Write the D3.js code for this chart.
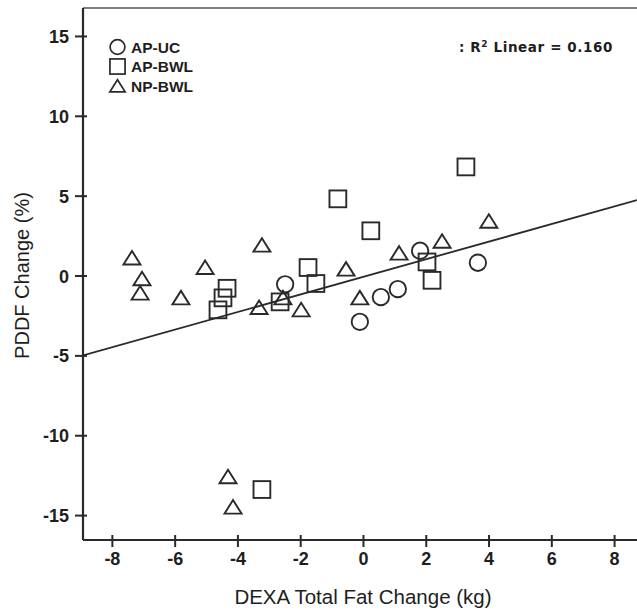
<!DOCTYPE html>
<html>
<head>
<meta charset="utf-8">
<script src="https://cdn.jsdelivr.net/npm/d3@7"></script>
<style>
  body { margin: 0; background: #fff; }
  svg { display: block; }
</style>
</head>
<body>
<svg id="svg" width="637" height="610"></svg>
<script>
// AP-UC (circles), AP-BWL (squares), NP-BWL (triangles): [fat change kg, PDDF change %]
var apUC = [
    [-2.48, -0.55], [1.82, 1.55], [3.66, 0.8], [0.57, -1.35], [1.11, -0.85], [-0.10, -2.9]
];
var apBWL = [
    [3.28, 6.8], [-0.80, 4.8], [0.25, 2.8], [-1.75, 0.5], [-1.50, -0.5], [-2.64, -1.65],
    [-4.33, -0.8], [-4.46, -1.4], [-4.62, -2.15], [2.04, 0.85], [2.20, -0.3], [-3.22, -13.4]
];
var npBWL = [
    [-7.36, 1.1], [-7.04, -0.2], [-7.10, -1.1], [-5.80, -1.4], [-5.03, 0.5], [-3.22, 1.9],
    [-3.31, -2.0], [-2.55, -1.4], [-1.97, -2.15], [-0.54, 0.4], [-0.10, -1.4], [1.15, 1.4],
    [2.52, 2.15], [4.01, 3.4], [-4.30, -12.6], [-4.14, -14.5]
];
var groups = ["AP-UC", "AP-BWL", "NP-BWL"];
var xTicks = [-8, -6, -4, -2, 0, 2, 4, 6, 8],
    yTicks = [-15, -10, -5, 0, 5, 10, 15];
var rSquared = "0.160";

// small stand-in for d3-selection-multi
d3.selection.prototype.attrs = function(o) {
    var sel = this;
    if (typeof o === "function") {
        return sel.each(function(d, i, n) {
            var v = o.call(this, d, i, n), s = d3.select(this);
            for (var k in v) s.attr(k, v[k]);
        });
    }
    for (var k in o) sel.attr(k, o[k]);
    return sel;
};

var svg = d3.select("#svg");
var L = 83, R = 637, T = 8, B = 540;

var x = d3.scaleLinear().domain([-8.92, 8.73]).range([L, R]),
    y = d3.scaleLinear().domain([-16.56, 16.75]).range([B, T]);

var ink = "#2a2a2a",
    font = "Liberation Sans, Arial, sans-serif";

// frame top
svg.append("line").attrs({x1: L, x2: R, y1: T, y2: T, stroke: "#555", "stroke-width": 1.5});

// axes
var fmt = d => String(d);
var gx = svg.append("g").attr("transform", "translate(0," + B + ")")
    .call(d3.axisBottom(x).tickValues(xTicks).tickSize(7).tickSizeOuter(0).tickPadding(5).tickFormat(fmt));
var gy = svg.append("g").attr("transform", "translate(" + L + ",0)")
    .call(d3.axisLeft(y).tickValues(yTicks).tickSize(8).tickSizeOuter(0).tickPadding(6).tickFormat(fmt));
gx.select(".domain").attrs({stroke: ink, "stroke-width": 2.2, d: "M" + L + ",0H" + R});
gy.select(".domain").attrs({stroke: ink, "stroke-width": 2.2, d: "M0," + T + "V" + B});
gx.selectAll(".tick line").attrs({y1: -5, stroke: ink, "stroke-width": 2});
gy.selectAll(".tick line").attrs({x1: 4, stroke: ink, "stroke-width": 2});
[gx, gy].forEach(function(g) {
    g.selectAll(".tick text").attrs({"font-family": font, "font-size": 18, "font-weight": "bold", fill: "#1e1e1e"});
});
gy.selectAll(".tick text").attr("dy", "0.36em");

// axis titles
svg.append("text").attrs({x: x(0), y: 604, "text-anchor": "middle", "font-family": font, "font-size": 20.5, fill: "#1e1e1e"})
    .text("DEXA Total Fat Change (kg)");
svg.append("text").attrs({transform: "translate(29," + y(0) + ") rotate(-90)", "text-anchor": "middle", "font-family": font, "font-size": 20, fill: "#1e1e1e"})
    .text("PDDF Change (%)");

// regression line from all points
var all = apUC.concat(apBWL, npBWL);
var mx = d3.mean(all, d => d[0]), my = d3.mean(all, d => d[1]);
var slope = d3.sum(all, d => (d[0] - mx) * (d[1] - my)) / d3.sum(all, d => (d[0] - mx) * (d[0] - mx)),
    icpt = my - slope * mx;
svg.append("defs").append("clipPath").attr("id", "plot-clip")
    .append("rect").attrs({x: L, y: T, width: R - L, height: B - T});
var xd = x.domain();
svg.append("line").attr("clip-path", "url(#plot-clip)")
    .attrs({x1: x(xd[0]), y1: y(icpt + slope * xd[0]), x2: x(xd[1]), y2: y(icpt + slope * xd[1]),
        stroke: ink, "stroke-width": 1.8});

// markers
var mark = {
    "AP-UC": function(g) { g.append("circle").attr("r", 8.2); },
    "AP-BWL": function(g) { g.append("rect").attrs({x: -8.4, y: -8.4, width: 16.8, height: 16.8}); },
    "NP-BWL": function(g) { g.append("path").attr("d", "M0,-7L8.5,6.5L-8.5,6.5Z"); }
};
var style = {fill: "none", stroke: ink, "stroke-width": 1.9};

[apUC, apBWL, npBWL].forEach(function(set, k) {
    svg.append("g").selectAll().data(set).enter()
        .append("g").attr("transform", d => "translate(" + x(d[0]) + "," + y(d[1]) + ")")
        .attrs(style)
        .each(function() { mark[groups[k]](d3.select(this)); });
});

// legend
var leg = svg.append("g").selectAll().data(groups).enter()
    .append("g").attr("transform", (_, i) => "translate(117.5," + [47, 66.5, 86][i] + ")");
leg.append("g").attrs(style).attr("transform", "scale(0.9)").each(function(d) { mark[d](d3.select(this)); });
leg.append("text").attrs({x: 13.5, y: 5.5, "font-family": font, "font-size": 15.5, "font-weight": "bold", fill: "#1e1e1e"})
    .text(d => d);

// R squared note
var note = svg.append("text").attrs({x: 459, y: 52, "font-family": "DejaVu Sans, sans-serif", "font-size": 13.5, "font-weight": "bold", "letter-spacing": 0.6, fill: "#1e1e1e"});
note.append("tspan").text(": R");
note.append("tspan").attrs({dy: -5.5, "font-size": 9}).text("2");
note.append("tspan").attrs({dy: 5.5}).text(" Linear = " + rSquared);
</script>
</body>
</html>
